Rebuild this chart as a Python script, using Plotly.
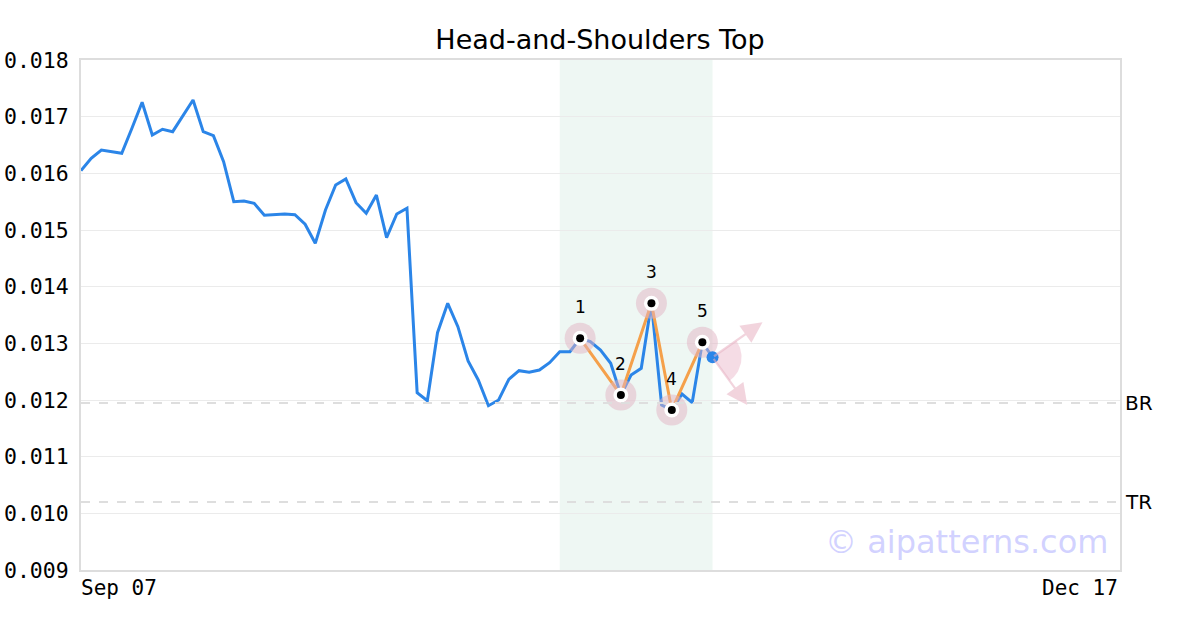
import plotly.graph_objects as go
import pandas as pd
import math

# ---- data ----
start_date = "2023-09-07"
prices = [
    0.016047, 0.016265, 0.016412, 0.016383, 0.016354, 0.016795, 0.017254, 0.016676,
    0.016777, 0.016735, 0.017012, 0.017294, 0.016735, 0.016664, 0.016205, 0.015499,
    0.015512, 0.015471, 0.015259, 0.015265, 0.015282, 0.015270, 0.015101, 0.014765,
    0.015353, 0.015794, 0.015900, 0.015482, 0.015295, 0.015618, 0.014864, 0.015282,
    0.015383, 0.012129, 0.011988, 0.013188, 0.013706, 0.013294, 0.012688, 0.012353,
    0.011899, 0.012000, 0.012365, 0.012517, 0.012489, 0.012529, 0.012658, 0.012852,
    0.012852, 0.013089, 0.013029, 0.012882, 0.012648, 0.012088, 0.012441, 0.012559,
    0.013706, 0.011912, 0.011824, 0.012106, 0.011952, 0.013018, 0.012754,
]
pivot_idx = [49, 53, 56, 58, 61]
pivot_labels = ["1", "2", "3", "4", "5"]
pattern_start_idx = 47
br_level = 0.011947
tr_level = 0.010200
y_ticks = [0.009, 0.010, 0.011, 0.012, 0.013, 0.014, 0.015, 0.016, 0.017, 0.018]
x_labels = ["Sep 07", "Dec 17"]
title = "Head-and-Shoulders Top"
watermark = "© aipatterns.com"

dates = pd.date_range(start_date, periods=len(prices), freq="D")
x_start = dates[0]
x_end = dates[0] + pd.Timedelta(days=102)

W, H = 1200, 630
ml, mr, mt, mb = 81, 80, 60, 60
plot_w = W - ml - mr
plot_h = H - mt - mb
y_min, y_max = 0.009, 0.018
days_per_px = 102 / plot_w
val_per_px = (y_max - y_min) / plot_h

blue = "#2b85e8"
orange = "#f5a04a"
pink_halo = "rgba(225,180,196,0.5)"
pink = "rgba(232,178,195,0.55)"

fig = go.Figure()

# price line
fig.add_trace(go.Scatter(x=dates, y=prices, mode="lines",
                         line=dict(color=blue, width=3), hoverinfo="skip"))

# pattern line
px_ = [dates[i] for i in pivot_idx]
py_ = [prices[i] for i in pivot_idx]
fig.add_trace(go.Scatter(x=px_, y=py_, mode="lines",
                         line=dict(color=orange, width=3), hoverinfo="skip"))

# halos
fig.add_trace(go.Scatter(x=px_, y=py_, mode="markers",
                         marker=dict(size=31, color=pink_halo, line=dict(width=0)),
                         hoverinfo="skip"))

# wedge + arrows from the last point
lx, ly = dates[-1], prices[-1]

def to_data(dx_px, dy_px):
    return (lx + pd.Timedelta(days=dx_px * days_per_px), ly - dy_px * val_per_px)

a1 = math.radians(35)
a2 = math.radians(-54)
r = 29
wx, wy = [lx], [ly]
n = 30
for k in range(n + 1):
    a = a1 + (a2 - a1) * k / n
    xx, yy = to_data(r * math.cos(a), -r * math.sin(a))
    wx.append(xx); wy.append(yy)
wx.append(lx); wy.append(ly)
fig.add_trace(go.Scatter(x=wx, y=wy, mode="lines", fill="toself",
                         fillcolor="rgba(236,192,207,0.55)", line=dict(width=0),
                         hoverinfo="skip"))

for ang, length in [(35, 61), (-54, 59)]:
    a = math.radians(ang)
    dxp, dyp = length * math.cos(a), -length * math.sin(a)
    hx, hy = to_data(dxp, dyp)
    fig.add_annotation(x=hx, y=hy, ax=-dxp, ay=-dyp, xref="x", yref="y",
                       showarrow=True, arrowhead=2, arrowsize=1.9, arrowwidth=2.2,
                       arrowcolor=pink, text="")

# pivot dots
fig.add_trace(go.Scatter(x=px_, y=py_, mode="markers",
                         marker=dict(size=15, color="white", line=dict(width=0)),
                         hoverinfo="skip"))
fig.add_trace(go.Scatter(x=px_, y=py_, mode="markers",
                         marker=dict(size=8, color="black", line=dict(width=0)),
                         hoverinfo="skip"))

# last point dot
fig.add_trace(go.Scatter(x=[lx], y=[ly], mode="markers",
                         marker=dict(size=12, color=blue), hoverinfo="skip"))

# pivot labels
for xi, yi, t in zip(px_, py_, pivot_labels):
    fig.add_annotation(x=xi, y=yi, text=t, showarrow=False, yshift=31,
                       font=dict(family="DejaVu Sans", size=17, color="black"))

# pattern band
fig.add_shape(type="rect", xref="x", yref="paper", x0=dates[pattern_start_idx],
              x1=dates[-1], y0=0, y1=1, fillcolor="#eef7f3", line=dict(width=0),
              layer="below")

# levels
for lvl, lab in [(br_level, "BR"), (tr_level, "TR")]:
    fig.add_shape(type="line", xref="paper", yref="y", x0=0, x1=1, y0=lvl, y1=lvl,
                  line=dict(color="#dedede", width=2, dash="dash"))
    fig.add_annotation(xref="paper", yref="y", x=1, y=lvl, text=lab, showarrow=False,
                       xanchor="left", xshift=3,
                       font=dict(family="DejaVu Sans", size=20, color="black"))

# x labels
fig.add_annotation(xref="paper", yref="paper", x=0, y=0, text=x_labels[0], showarrow=False,
                   xanchor="left", yanchor="top", yshift=-4, xshift=-2,
                   font=dict(family="DejaVu Sans Mono", size=21, color="black"))
fig.add_annotation(xref="paper", yref="paper", x=1, y=0, text=x_labels[1], showarrow=False,
                   xanchor="right", yanchor="top", yshift=-4,
                   font=dict(family="DejaVu Sans Mono", size=21, color="black"))

# watermark
fig.add_annotation(xref="paper", yref="paper", x=0.99, y=0.055, text=watermark,
                   showarrow=False, xanchor="right", yanchor="middle",
                   font=dict(family="DejaVu Sans", size=32, color="rgba(195,195,255,0.75)"))

fig.update_layout(
    width=W, height=H,
    margin=dict(l=ml, r=mr, t=mt, b=mb),
    paper_bgcolor="white", plot_bgcolor="white",
    showlegend=False,
    title=dict(text=title, x=0.5, xanchor="center", y=(H - 40) / H, yanchor="middle",
               font=dict(family="DejaVu Sans", size=27, color="black")),
    xaxis=dict(range=[x_start, x_end], showgrid=False, showticklabels=False,
               showline=True, linecolor="#dddddd", linewidth=2, mirror=True,
               zeroline=False, fixedrange=True, automargin=False),
    yaxis=dict(range=[y_min, y_max], tickvals=y_ticks, tickformat=".3f",
               showgrid=True, gridcolor="#ebebeb", gridwidth=1,
               showline=True, linecolor="#dddddd", linewidth=2, mirror=True,
               zeroline=False, ticks="", ticklen=0, ticklabelstandoff=6,
               automargin=False,
               tickfont=dict(family="DejaVu Sans Mono", size=21.5, color="black")),
)

fig.write_html("out.html", config={"displayModeBar": False},
               post_script="document.body.style.margin='0';")
